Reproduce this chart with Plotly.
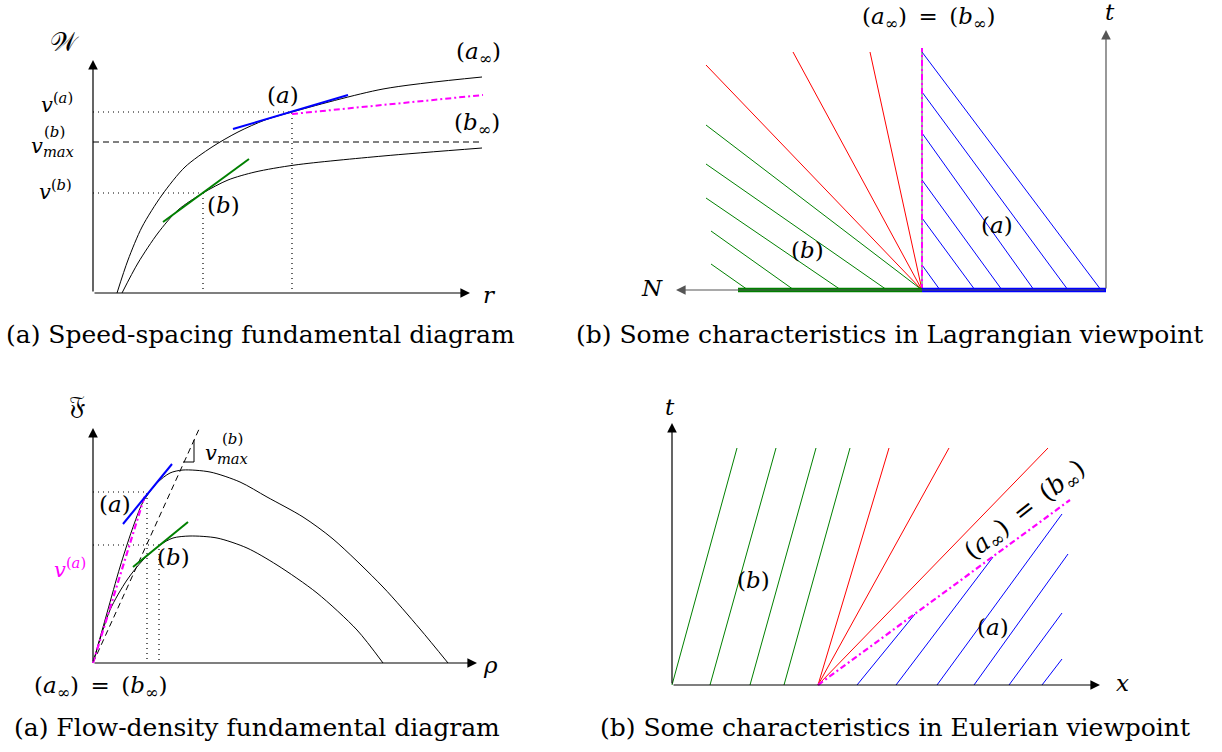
import plotly.graph_objects as go

W, H = 1222, 752
S = 10.0  # pixels per data unit on every panel
FONT = "DejaVu Serif"

# ---------------- Panel 1 : speed-spacing diagram ----------------
p1_r_a = [2.4, 3.5, 4.9, 6.9, 9.2, 11.9, 14.5, 17.2, 19.9, 29.0, 38.9]
p1_w_a = [0.0, 3.3, 6.6, 9.8, 12.6, 14.6, 16.1, 17.3, 18.1, 20.4, 21.6]
p1_r_b = [2.9, 4.5, 6.5, 8.5, 11.0, 13.5, 16.2, 20.2, 29.0, 38.9]
p1_w_b = [0.0, 3.0, 6.0, 8.3, 10.0, 11.3, 12.1, 12.8, 13.7, 14.5]
p1_point_a = (19.9, 18.1)
p1_point_b = (11.0, 10.0)
p1_vmax_b = 15.1
p1_r_end = 38.9
p1_tan_a_r, p1_tan_a_w = [14.0, 25.5], [16.4, 19.8]
p1_tan_b_r, p1_tan_b_w = [7.0, 15.6], [7.1, 13.4]
p1_mag_r, p1_mag_w = [19.9, 39.0], [17.9, 19.8]
p1_axis = (37.7, 23.3)

# ---------------- Panel 2 : Lagrangian characteristics ----------------
p2_red_top_x = [-21.6, -12.9, -5.2]
p2_red_top_t = [22.5, 23.8, 23.8]
p2_green_top_x = [-21.6, -21.6, -21.6, -21.1, -21.1]
p2_green_top_t = [16.5, 12.6, 9.2, 5.9, 2.6]
p2_green_foot = [0.0, -3.5, -8.1, -12.8, -17.4]
p2_blue_start_t = [23.8, 19.8, 15.7, 11.0, 7.2, 2.5]
p2_blue_foot = [17.9, 14.6, 11.2, 8.0, 5.3, 1.8]
p2_mag_top = 24.2
p2_green_seg = [-18.4, 0.0]
p2_blue_seg = [0.0, 18.4]
p2_t_axis_x, p2_t_axis_top, p2_n_axis_end = 18.4, 26.0, -24.6

# ---------------- Panel 3 : flow-density diagram ----------------
p3_rho_a = [0.0, 1.4, 2.7, 3.9, 5.0, 6.4, 7.7, 9.0, 11.7, 14.7, 17.4, 21.0, 24.0, 29.0, 32.7, 35.5]
p3_f_a = [0.0, 5.0, 9.6, 13.3, 16.1, 18.0, 19.0, 19.3, 19.1, 18.1, 16.6, 14.6, 12.4, 7.6, 3.4, 0.0]
p3_rho_b = [0.0, 1.7, 3.4, 5.0, 6.7, 8.0, 9.7, 12.4, 15.4, 18.4, 22.4, 26.4, 29.0]
p3_f_b = [0.0, 5.3, 8.3, 10.3, 11.8, 12.5, 12.7, 12.5, 11.5, 9.8, 7.0, 3.3, 0.0]
p3_point_a = (5.4, 17.1)
p3_point_b = (6.6, 11.8)
p3_vmax_line = ([0.0, 10.7], [0.0, 23.6])
p3_slope_mark_x = [9.0, 10.1, 10.1]
p3_slope_mark_f = [20.1, 20.1, 22.3]
p3_tan_a = ([3.0, 7.9], [13.9, 19.9])
p3_tan_b = ([4.0, 9.5], [9.6, 14.1])
p3_mag = ([0.0, 5.2], [0.0, 16.8])
p3_axis = (38.4, 23.5)

# ---------------- Panel 4 : Eulerian characteristics ----------------
p4_green_foot = [0.0, 3.8, 7.8, 11.2]
p4_green_top = [6.5, 10.4, 14.4, 17.8]
p4_top_t = 23.7
p4_fan_x = 14.6
p4_red_top = [21.7, 27.7, 37.6]
p4_mag_end = (39.8, 18.5)
p4_blue_foot = [18.5, 22.4, 26.5, 30.2, 33.7, 37.0]
p4_blue_top_x = [24.3, 32.1, 39.0, 39.6, 39.0, 39.0]
p4_blue_top_t = [7.1, 12.8, 17.1, 13.1, 7.2, 2.6]
p4_axis = (42.8, 26.2)

captions = [
    "(a) Speed-spacing fundamental diagram",
    "(b) Some characteristics in Lagrangian viewpoint",
    "(a) Flow-density fundamental diagram",
    "(b) Some characteristics in Eulerian viewpoint",
]

# ---------------- layout helpers ----------------
fig = go.Figure()
panels = {
    1: dict(origin=(93, 293), box=(0, 540, 0, 312)),
    2: dict(origin=(922, 290), box=(560, 1222, 0, 312)),
    3: dict(origin=(93, 663), box=(0, 560, 385, 712)),
    4: dict(origin=(672, 685), box=(590, 1222, 385, 712)),
}
layout_axes = {}
for i, p in panels.items():
    ox, oy = p["origin"]
    x0, x1, y0, y1 = p["box"]
    sx = "" if i == 1 else str(i)
    layout_axes["xaxis" + sx] = dict(domain=[x0 / W, x1 / W], range=[(x0 - ox) / S, (x1 - ox) / S],
                                     visible=False, anchor="y" + sx, fixedrange=True)
    layout_axes["yaxis" + sx] = dict(domain=[1 - y1 / H, 1 - y0 / H], range=[(oy - y1) / S, (oy - y0) / S],
                                     visible=False, anchor="x" + sx, fixedrange=True)


def refs(i):
    return ("x", "y") if i == 1 else (f"x{i}", f"y{i}")


def line(i, xs, ys, color="black", width=1.0, dash="solid", shape="linear"):
    xr, yr = refs(i)
    fig.add_trace(go.Scatter(x=list(xs), y=list(ys), mode="lines", xaxis=xr, yaxis=yr,
                             line=dict(color=color, width=width, dash=dash, shape=shape, smoothing=0.8),
                             hoverinfo="skip", showlegend=False, cliponaxis=False))


annotations = []


def text(i, x, y, s, size=23, color="black", angle=0):
    xr, yr = refs(i)
    annotations.append(dict(x=x, y=y, xref=xr, yref=yr, text=s, showarrow=False, textangle=angle,
                            font=dict(family=FONT, size=size, color=color), xanchor="center", yanchor="middle"))


def arrow(i, x_from, y_from, x_to, y_to, color="black"):
    xr, yr = refs(i)
    annotations.append(dict(x=x_to, y=y_to, ax=x_from, ay=y_from, xref=xr, yref=yr, axref=xr, ayref=yr,
                            text="", showarrow=True, arrowhead=2, arrowsize=1.6, arrowwidth=1.2,
                            arrowcolor=color, standoff=0, startstandoff=0))


DOT = "1px,4px"
DASH = "6px,4px"
DASHDOT = "6px,3px,2px,3px"
AINF = "(<i>a</i><sub>∞</sub>)"
BINF = "(<i>b</i><sub>∞</sub>)"
EQ = AINF + "\u2002=\u2002" + BINF

# ---------------- Panel 1 drawing ----------------
arrow(1, 0, 0, 0, p1_axis[1])
arrow(1, 0, 0, p1_axis[0], 0)
line(1, [0, p1_point_a[0], p1_point_a[0]], [p1_point_a[1], p1_point_a[1], 0], width=1.2, dash=DOT)
line(1, [0, p1_point_b[0], p1_point_b[0]], [p1_point_b[1], p1_point_b[1], 0], width=1.2, dash=DOT)
line(1, [0, p1_r_end], [p1_vmax_b, p1_vmax_b], width=1.0, dash=DASH)
line(1, p1_r_a, p1_w_a, shape="spline")
line(1, p1_r_b, p1_w_b, shape="spline")
line(1, p1_mag_r, p1_mag_w, color="magenta", width=2.0, dash=DASHDOT)
line(1, p1_tan_a_r, p1_tan_a_w, color="blue", width=2.0)
line(1, p1_tan_b_r, p1_tan_b_w, color="green", width=2.0)
text(1, -2.8, 25.1, "𝒲", size=26)
text(1, 39.6, -0.2, "<i>r</i>")
text(1, -3.6, 19.0, "<i>v</i><sup>(<i>a</i>)</sup>", size=21)
text(1, -3.9, 16.1, "(<i>b</i>)", size=15)
text(1, -4.0, 14.6, "<i>v</i><sub><i>max</i></sub>", size=21)
text(1, -3.8, 10.3, "<i>v</i><sup>(<i>b</i>)</sup>", size=21)
text(1, 19.0, 19.8, "(<i>a</i>)")
text(1, 13.0, 8.8, "(<i>b</i>)")
text(1, 38.5, 24.0, AINF)
text(1, 38.4, 16.9, BINF)

# ---------------- Panel 2 drawing ----------------
AX2 = "#555555"
arrow(2, p2_t_axis_x, 0, p2_t_axis_x, p2_t_axis_top, color=AX2)
arrow(2, p2_t_axis_x, 0, p2_n_axis_end, 0, color=AX2)
for xt, tt in zip(p2_red_top_x, p2_red_top_t):
    line(2, [0, xt], [0, tt], color="red", width=1.0)
for xt, tt, xf in zip(p2_green_top_x, p2_green_top_t, p2_green_foot):
    line(2, [xf, xt], [0, tt], color="green", width=1.0)
for ts, xf in zip(p2_blue_start_t, p2_blue_foot):
    line(2, [0, xf], [ts, 0], color="blue", width=1.0)
line(2, [0, 0], [0, p2_mag_top], color="#555555", width=1.0)
line(2, [0, 0], [0, p2_mag_top], color="magenta", width=2.0, dash=DASHDOT)
line(2, p2_green_seg, [0, 0], color="green", width=4.5)
line(2, p2_blue_seg, [0, 0], color="blue", width=4.5)
text(2, 0.6, 27.2, EQ)
text(2, 18.8, 27.8, "<i>t</i>")
text(2, -27.0, 0.2, "<i>N</i>")
text(2, -11.5, 4.0, "(<i>b</i>)")
text(2, 7.5, 6.5, "(<i>a</i>)")

# ---------------- Panel 3 drawing ----------------
arrow(3, 0, 0, 0, p3_axis[1])
arrow(3, 0, 0, p3_axis[0], 0)
line(3, [0, p3_point_a[0], p3_point_a[0]], [p3_point_a[1], p3_point_a[1], 0], width=1.2, dash=DOT)
line(3, [0, p3_point_b[0], p3_point_b[0]], [p3_point_b[1], p3_point_b[1], 0], width=1.2, dash=DOT)
line(3, p3_vmax_line[0], p3_vmax_line[1], width=1.0, dash=DASH)
line(3, p3_slope_mark_x, p3_slope_mark_f, width=1.0)
line(3, p3_rho_a, p3_f_a, shape="spline")
line(3, p3_rho_b, p3_f_b, shape="spline")
line(3, p3_mag[0], p3_mag[1], color="magenta", width=2.2, dash=DASHDOT)
line(3, p3_tan_a[0], p3_tan_a[1], color="blue", width=2.0)
line(3, p3_tan_b[0], p3_tan_b[1], color="green", width=2.0)
text(3, -1.6, 25.8, "𝔉", size=26)
text(3, 39.7, -0.2, "<i>ρ</i>")
text(3, 13.9, 22.4, "(<i>b</i>)", size=15)
text(3, 13.4, 20.9, "<i>v</i><sub><i>max</i></sub>", size=21)
text(3, 2.2, 15.9, "(<i>a</i>)")
text(3, 8.0, 10.6, "(<i>b</i>)")
text(3, -2.3, 9.5, "<i>v</i><sup>(<i>a</i>)</sup>", size=21, color="magenta")
text(3, 0.7, -2.4, EQ)

# ---------------- Panel 4 drawing ----------------
arrow(4, 0, 0, 0, p4_axis[1])
arrow(4, 0, 0, p4_axis[0], 0)
for xf, xt in zip(p4_green_foot, p4_green_top):
    line(4, [xf, xt], [0, p4_top_t], color="green", width=1.0)
for xt in p4_red_top:
    line(4, [p4_fan_x, xt], [0, p4_top_t], color="red", width=1.0)
for xf, xt, tt in zip(p4_blue_foot, p4_blue_top_x, p4_blue_top_t):
    line(4, [xf, xt], [0, tt], color="blue", width=1.0)
line(4, [p4_fan_x, p4_mag_end[0]], [0, p4_mag_end[1]], color="magenta", width=2.2, dash=DASHDOT)
text(4, -0.2, 27.8, "<i>t</i>")
text(4, 45.0, 0.2, "<i>x</i>")
text(4, 8.1, 10.5, "(<i>b</i>)")
text(4, 32.1, 5.8, "(<i>a</i>)")
text(4, 35.3, 17.4, EQ, size=25, angle=-38)

# ---------------- captions ----------------
cap_pos = [(260, 334), (889, 334), (257, 727), (895, 727)]
for s, (cx, cy) in zip(captions, cap_pos):
    annotations.append(dict(x=cx / W, y=1 - cy / H, xref="paper", yref="paper", text=s, showarrow=False,
                            font=dict(family=FONT, size=25, color="black"), xanchor="center", yanchor="middle"))

fig.update_layout(width=W, height=H, margin=dict(l=0, r=0, t=0, b=0), autosize=False,
                  paper_bgcolor="white", plot_bgcolor="rgba(0,0,0,0)", showlegend=False,
                  annotations=annotations, **layout_axes)

fig.write_html("out.html", config={"displayModeBar": False},
               post_script="document.body.style.margin='0';document.body.style.overflow='hidden';")
